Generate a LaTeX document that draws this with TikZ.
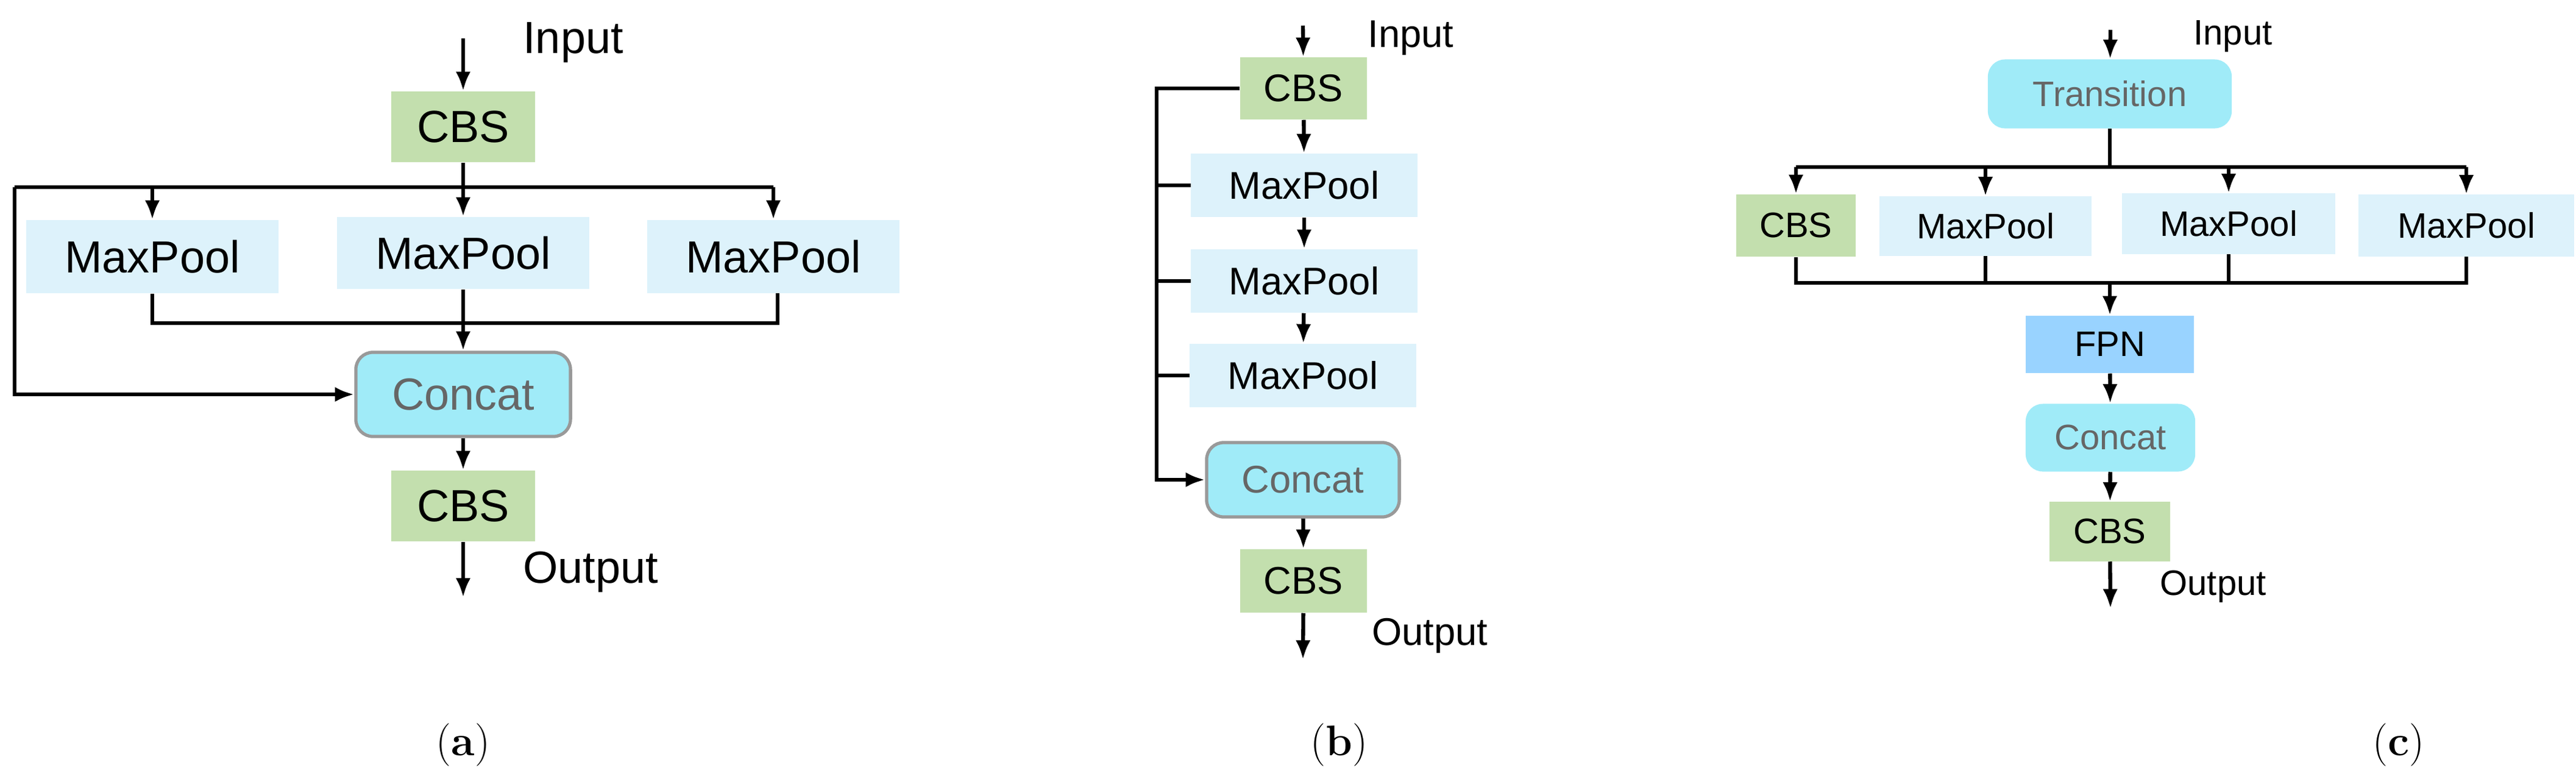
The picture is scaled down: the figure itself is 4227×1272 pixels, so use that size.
\documentclass[tikz,border=0pt]{standalone}
\usepackage{fontspec}
\setmainfont{Liberation Sans}
\newfontfamily\lmserif{Latin Modern Roman}
\usetikzlibrary{arrows.meta,calc}
\definecolor{cbsgreen}{HTML}{C3DFAE}
\definecolor{poolblue}{HTML}{DDF2FB}
\definecolor{catcyan}{HTML}{A0EBF8}
\definecolor{fpnblue}{HTML}{99D3FF}
\definecolor{cattext}{HTML}{666666}
\tikzset{
	blk/.style={inner sep=0pt, anchor=center},
	cbs/.style={blk, fill=cbsgreen},
	pool/.style={blk, fill=poolblue},
	cat/.style={blk, fill=catcyan, rounded corners=8pt, text=cattext},
	fpn/.style={blk, fill=fpnblue},
	line/.style={line width=1.8pt},
	arr/.style={line, -{Latex[length=9pt,width=7pt]}},
	sublabel/.style={font=\lmserif\fontsize{20}{22}\selectfont}
}
\begin{document}
\begin{tikzpicture}[x=0.01cm, y=-0.01cm]
	\useasboundingbox (0,0) rectangle (4227,1272);
	% (a)
	\begin{scope}[every node/.append style={font=\fontsize{21}{24}\selectfont}]
		\node[cbs, minimum width=2.36cm, minimum height=1.16cm] (a1) at (760,208) {CBS};
		\node[pool, minimum width=4.14cm, minimum height=1.2cm] (am1) at (250,421) {MaxPool};
		\node[pool, minimum width=4.13cm, minimum height=1.18cm] (am2) at (760,415) {MaxPool};
		\node[pool, minimum width=4.14cm, minimum height=1.2cm] (am3) at (1269,421) {MaxPool};
		\node[cat, draw=gray!80, line width=1.5pt, minimum width=3.52cm, minimum height=1.38cm] (ac) at (760,647) {Concat};
		\node[cbs, minimum width=2.36cm, minimum height=1.16cm] (a2) at (760,830) {CBS};
		\coordinate (ain) at (760,63);
		\coordinate (aout) at (760,980);
		\node[anchor=west] (aint) at (846,70) {Input};
		\node[anchor=west] (aoutt) at (846,938) {Output};
	\end{scope}
	\draw[arr] (ain) -- (a1);
	\draw[line] (a1) -- (760,307);
	\draw[line] (24,307) -- (1269,307);
	\foreach \n in {am1,am2,am3} \draw[arr] (\n.north |- 0,307) -- (\n.north);
	\draw[line] (am1.south) -- (250,530) -- (1276,530) -- (1276,481);
	\draw[arr] (am2.south) -- (ac.north);
	\draw[arr] (24,307) -- (24,647) -- (ac.west);
	\draw[arr] (ac) -- (a2);
	\draw[arr] (a2) -- (aout);
	\node[sublabel] (alab) at (760,1222) {(\textbf{a})};
	% (b)
	\begin{scope}[every node/.append style={font=\fontsize{18}{22}\selectfont}]
		\node[cbs, minimum width=2.08cm, minimum height=1.02cm] (b1) at (2139,145) {CBS};
		\node[pool, minimum width=3.71cm, minimum height=1.04cm] (bm1) at (2140,304) {MaxPool};
		\node[pool, minimum width=3.71cm, minimum height=1.04cm] (bm2) at (2140,461) {MaxPool};
		\node[pool, minimum width=3.71cm, minimum height=1.04cm] (bm3) at (2138,616) {MaxPool};
		\node[cat, draw=gray!80, line width=1.5pt, minimum width=3.16cm, minimum height=1.22cm] (bc) at (2138,787) {Concat};
		\node[cbs, minimum width=2.08cm, minimum height=1.04cm] (b2) at (2139,953) {CBS};
		\coordinate (bin) at (2138,42);
		\coordinate (bout) at (2138,1082);
		\node[anchor=west] (bint) at (2232,62) {Input};
		\node[anchor=west] (boutt) at (2239,1043) {Output};
	\end{scope}
	\draw[arr] (bin) -- (b1);
	\draw[arr] (b1) -- (bm1);
	\draw[arr] (bm1) -- (bm2);
	\draw[arr] (bm2) -- (bm3);
	\draw[arr] (bc) -- (b2);
	\draw[arr] (b2) -- (bout);
	\draw[arr] (b1.west) -- (1898,145) -- (1898,787) -- (bc.west);
	\foreach \n in {bm1,bm2,bm3} \draw[line] (1898,0 |- \n.west) -- (\n.west);
	\node[sublabel] (blab) at (2197,1222) {(\textbf{b})};
	% (c)
	\begin{scope}[every node/.append style={font=\fontsize{16.5}{20}\selectfont}]
		\node[cat, minimum width=4cm, minimum height=1.13cm] (ct) at (3462,154) {Transition};
		\node[cbs, minimum width=1.95cm, minimum height=1.02cm] (c1) at (2947,370) {CBS};
		\node[pool, minimum width=3.47cm, minimum height=0.97cm] (cm1) at (3258,371) {MaxPool};
		\node[pool, minimum width=3.49cm, minimum height=0.99cm] (cm2) at (3657,367) {MaxPool};
		\node[pool, minimum width=3.53cm, minimum height=1.01cm] (cm3) at (4047,370) {MaxPool};
		\node[fpn, minimum width=2.75cm, minimum height=0.94cm] (cf) at (3462,565) {FPN};
		\node[cat, minimum width=2.78cm, minimum height=1.11cm] (cc) at (3463,718) {Concat};
		\node[cbs, minimum width=1.98cm, minimum height=0.97cm] (c2) at (3462,872) {CBS};
		\coordinate (cin) at (3463,49);
		\coordinate (cout) at (3463,998);
		\node[anchor=west] (cint) at (3587,60) {Input};
		\node[anchor=west] (coutt) at (3532,962) {Output};
	\end{scope}
	\draw[arr] (cin) -- (ct);
	\draw[line] (ct) -- (3462,274);
	\draw[line] (2947,274) -- (4047,274);
	\foreach \n in {c1,cm1,cm2,cm3} \draw[arr] (\n.north |- 0,274) -- (\n.north);
	\draw[line] (c1.south) -- (2947,464) -- (4047,464) -- (cm3.south);
	\foreach \n in {cm1,cm2} \draw[line] (\n.south) -- (\n.south |- 0,464);
	\draw[arr] (3462,464) -- (cf);
	\draw[arr] (cf) -- (cc);
	\draw[arr] (cc) -- (c2);
	\draw[arr] (c2) -- (cout);
	\node[sublabel] (clab) at (3936,1222) {(\textbf{c})};
\end{tikzpicture}
\end{document}
